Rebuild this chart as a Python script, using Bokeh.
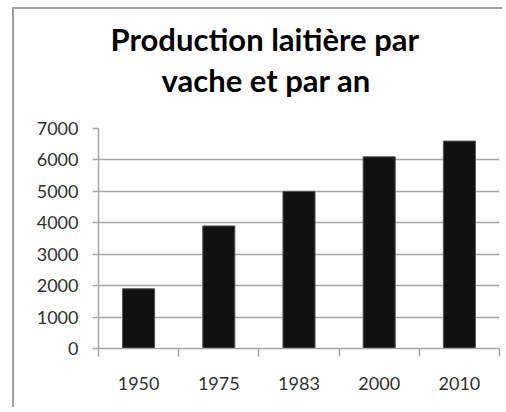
from bokeh.plotting import figure
from bokeh.models import Range1d, FixedTicker, Title, LinearAxis
from bokeh.embed import file_html
from bokeh.resources import INLINE

title_line1 = "Production laitière par"
title_line2 = "vache et par an"
years = ["1950", "1975", "1983", "2000", "2010"]
production = [1900, 3900, 5000, 6100, 6600]
y_ticks = [0, 1000, 2000, 3000, 4000, 5000, 6000, 7000]

centers = [i + 0.5 for i in range(len(years))]
edges = [i for i in range(len(years) + 1)]

p = figure(width=490, height=400, output_backend="svg", toolbar_location=None,
           x_range=Range1d(0, len(years)), y_range=Range1d(0, 7000),
           min_border_left=84, min_border_right=5, min_border_top=119, min_border_bottom=61,
           title=None)
p.styles = {"margin-left": "12px", "margin-top": "7px",
            "border-style": "solid none none solid", "border-width": "2px",
            "border-color": "#a0a0a0"}

p.vbar(x=centers, top=production, width=0.4, fill_color="#111111", line_color="#555555", line_width=1)

p.outline_line_color = None
p.xgrid.grid_line_color = None
p.ygrid.grid_line_color = "#a6a6a6"
p.ygrid.grid_line_width = 1.5
p.ygrid.ticker = FixedTicker(ticks=y_ticks)

p.xaxis.ticker = FixedTicker(ticks=centers, minor_ticks=edges)
p.xaxis.major_label_overrides = {c: y for c, y in zip(centers, years)}
p.xaxis.major_tick_line_color = None
p.xaxis.major_tick_out = 0
p.xaxis.major_tick_in = 0
p.xaxis.minor_tick_line_color = "#a6a6a6"
p.xaxis.minor_tick_line_width = 1.5
p.xaxis.minor_tick_out = 8
p.xaxis.minor_tick_in = 0
p.xaxis.major_label_standoff = 20

p.yaxis.ticker = FixedTicker(ticks=y_ticks)
p.yaxis.major_tick_out = 6
p.yaxis.major_tick_in = 0
p.yaxis.minor_tick_line_color = None
p.yaxis.major_tick_line_color = "#a6a6a6"
p.yaxis.major_tick_line_width = 1.5
p.yaxis.major_label_standoff = 14

for ax in (p.xaxis, p.yaxis):
    ax.axis_line_color = "#a6a6a6"
    ax.axis_line_width = 1.5
    ax.major_label_text_font = "Lato"
    ax.major_label_text_font_size = "18px"
    ax.major_label_text_color = "#303030"

# invisible spacer between the plot area and the two title lines
spacer_tick = [len(years) / 2]
spacer = LinearAxis(ticker=FixedTicker(ticks=spacer_tick), axis_line_color=None,
                    major_tick_line_color=None, minor_tick_line_color=None,
                    major_tick_out=28, major_tick_in=0, minor_tick_out=0, minor_tick_in=0,
                    major_label_standoff=0, major_label_text_font_size="0px",
                    major_label_text_color=None,
                    major_label_overrides={spacer_tick[0]: ""})
p.add_layout(spacer, "above")

t2 = Title(text=title_line2, align="left", offset=63, text_font="Lato", text_font_size="31px",
           text_font_style="bold", text_color="#000000", standoff=3)
t1 = Title(text=title_line1, align="left", offset=12, text_font="Lato", text_font_size="31px",
           text_font_style="bold", text_color="#000000", standoff=0)
p.add_layout(t2, "above")
p.add_layout(t1, "above")

p.border_fill_color = "white"

open("out.html", "w").write(file_html(p, INLINE))
